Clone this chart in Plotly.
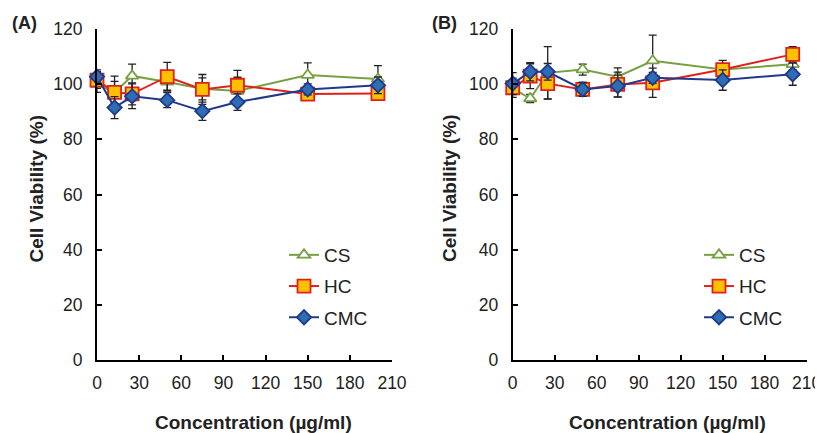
import plotly.graph_objects as go

conc = [0, 12.5, 25, 50, 75, 100, 150, 200]
x_ticks = [0, 30, 60, 90, 120, 150, 180, 210]
y_ticks = [0, 20, 40, 60, 80, 100, 120]

# Panel A
a_cs = [100.0, 97.0, 103.0, 100.8, 98.3, 97.5, 103.3, 101.9]
a_cs_err = [3.0, 4.0, 4.3, 3.0, 4.0, 5.0, 4.4, 4.8]
a_hc = [101.5, 97.0, 96.5, 102.7, 98.1, 99.6, 96.4, 96.6]
a_hc_err = [3.0, 5.9, 4.0, 5.2, 5.4, 5.4, 1.2, 2.4]
a_cmc = [102.7, 91.5, 95.6, 94.2, 90.2, 93.5, 98.1, 99.6]
a_cmc_err = [2.5, 4.0, 4.5, 2.7, 3.3, 3.0, 2.0, 3.0]

# Panel B
b_cs = [98.5, 94.8, 104.1, 105.3, 102.7, 108.5, 105.3, 107.2]
b_cs_err = [2.0, 1.5, 9.5, 2.0, 3.2, 9.3, 2.0, 2.0]
b_hc = [98.7, 102.9, 100.2, 98.1, 99.9, 100.5, 105.3, 110.8]
b_hc_err = [3.5, 4.5, 5.5, 2.5, 4.5, 5.3, 3.3, 2.8]
b_cmc = [100.2, 104.5, 104.5, 98.1, 99.3, 102.3, 101.5, 103.6]
b_cmc_err = [4.0, 3.3, 3.0, 2.5, 4.0, 2.0, 3.7, 4.0]

names = ["CS", "HC", "CMC"]
line_colors = ["#77A043", "#E0201B", "#1F3A8A"]
fill_colors = ["#FFFFFF", "#FFC000", "#2E6DB4"]
symbols = ["triangle-up", "square", "diamond"]
sizes = [11, 13, 11]

FONT = "Liberation Sans, Arial, sans-serif"
W, H, OFF = 815, 425, 8  # page body margin offsets the figure by 8px


def px(sx):
    return (sx - OFF) / W


def py(sy):
    return 1 - (sy - OFF) / H


fig = go.Figure()

panels = [
    ("x", "y", "legend", [a_cs, a_hc, a_cmc], [a_cs_err, a_hc_err, a_cmc_err]),
    ("x2", "y2", "legend2", [b_cs, b_hc, b_cmc], [b_cs_err, b_hc_err, b_cmc_err]),
]
for xa, ya, lg, vals, errs in panels:
    for i in range(3):
        fig.add_trace(go.Scatter(
            x=conc, y=vals[i], name=names[i], xaxis=xa, yaxis=ya, legend=lg,
            mode="lines+markers", cliponaxis=False,
            line=dict(color=line_colors[i], width=2),
            marker=dict(symbol=symbols[i], size=sizes[i], color=fill_colors[i],
                        line=dict(color=line_colors[i], width=1.8)),
            error_y=dict(type="data", array=errs[i], visible=True,
                         color="#222222", thickness=1.3, width=4),
            legendgroup=lg + names[i],
        ))

axis_common = dict(
    showline=True, linecolor="black", linewidth=2, showgrid=False, zeroline=False,
    ticks="inside", ticklen=5, tickwidth=2, tickcolor="black", automargin=False,
    tickfont=dict(family=FONT, size=17.5, color="#222222"),
)
ydom = [py(360), py(29)]
fig.update_layout(
    width=W, height=H, margin=dict(l=0, r=0, t=0, b=0, autoexpand=False),
    paper_bgcolor="white", plot_bgcolor="white",
    font=dict(family=FONT, color="#222222"),
    xaxis=dict(domain=[px(97), px(392)], range=[0, 210], tickvals=x_ticks, anchor="y",
               ticklabelstandoff=6, **axis_common),
    yaxis=dict(domain=ydom, range=[0, 120], tickvals=y_ticks, anchor="x",
               ticklabelstandoff=9, **axis_common),
    xaxis2=dict(domain=[px(512.7), px(806.7)], range=[0, 210], tickvals=x_ticks, anchor="y2",
                ticklabelstandoff=6, **axis_common),
    yaxis2=dict(domain=ydom, range=[0, 120], tickvals=y_ticks, anchor="x2",
                ticklabelstandoff=9, **axis_common),
    legend=dict(x=px(284), y=py(236), xanchor="left", yanchor="top", bgcolor="rgba(0,0,0,0)",
                font=dict(family=FONT, size=19, color="#222222"), tracegroupgap=3.5, itemwidth=30),
    legend2=dict(x=px(699), y=py(236), xanchor="left", yanchor="top", bgcolor="rgba(0,0,0,0)",
                 font=dict(family=FONT, size=19, color="#222222"), tracegroupgap=3.5, itemwidth=30),
)

ann = []
for sx, lab in [(10, "(A)"), (430, "(B)")]:
    ann.append(dict(text="<b>%s</b>" % lab, x=px(sx), y=py(23), xref="paper", yref="paper",
                    xanchor="left", yanchor="middle", showarrow=False,
                    font=dict(family=FONT, size=18, color="#222222")))
for cx in [35.5, 449]:
    ann.append(dict(text="<b>Cell Viability (%)</b>", x=px(cx), y=py(189), xref="paper", yref="paper",
                    xanchor="center", yanchor="middle", textangle=-90, showarrow=False,
                    font=dict(family=FONT, size=19, color="#222222")))
for cx in [253, 667]:
    ann.append(dict(text="<b>Concentration (µg/ml)</b>", x=px(cx), y=py(422), xref="paper", yref="paper",
                    xanchor="center", yanchor="middle", showarrow=False,
                    font=dict(family=FONT, size=19, color="#222222")))
fig.update_layout(annotations=ann)

fig.write_html("out.html")
